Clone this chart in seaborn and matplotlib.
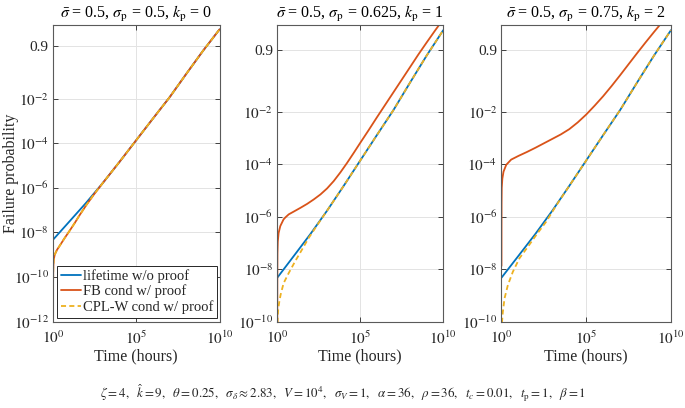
import numpy as np
import pandas as pd
import matplotlib
matplotlib.use("Agg")
import matplotlib.pyplot as plt
import seaborn as sns

# ---------------- data ----------------
series_labels = ["lifetime w/o proof", "FB cond w/ proof", "CPL-W cond w/ proof"]
panel_titles = [
    r"$\bar{\sigma}$ = 0.5, $\sigma_{\rm p}$ = 0.5, $k_{\rm p}$ = 0",
    r"$\bar{\sigma}$ = 0.5, $\sigma_{\rm p}$ = 0.625, $k_{\rm p}$ = 1",
    r"$\bar{\sigma}$ = 0.5, $\sigma_{\rm p}$ = 0.75, $k_{\rm p}$ = 2",
]
footer = (r"$\zeta = 4,\ \ \hat{k} = 9,\ \ \theta = 0.25,\ \ \sigma_\delta \approx 2.83,\ \ "
          r"V = 10^4,\ \ \sigma_V = 1,\ \ \alpha = 36,\ \ \rho = 36,\ \ t_c = 0.01,\ \ "
          r"t_{\rm p} = 1,\ \ \beta = 1$")

# lifetime without proof test (same in every panel)
t_life = [1e0, 1e1, 1e2, 1e3, 1e4, 1e5, 1e6, 1e7, 1e8, 1e9, 1e10]
p_life = [4.7e-9, 3.2e-8, 2.2e-7, 1.7e-6, 1.5e-5, 1.4e-4, 1.3e-3, 0.0117, 0.1235, 0.757, 0.9999981]

# panel 1 (k_p = 0): FB and CPL-W coincide
t_fb_1 = [1.0, 1.00115, 1.0069, 1.035, 1.096, 1.259, 1.738, 2.818, 5.012, 10, 19.95, 39.8, 100, 316,
          1e3, 1e4, 1e5, 1e6, 1e7, 1e8, 1e9, 1e10]
p_fb_1 = [3.2e-14, 3.2e-12, 5.0e-11, 2.5e-10, 5.75e-10, 1.0e-9, 1.66e-9, 2.88e-9, 5.62e-9, 1.2e-8,
          2.63e-8, 6.03e-8, 1.7e-7, 5.62e-7,
          1.7e-6, 1.5e-5, 1.4e-4, 1.3e-3, 0.0117, 0.1235, 0.757, 0.9999981]
t_cpl_1 = [1.0, 1.00115, 1.0069, 1.035, 1.096, 1.259, 1.738, 2.818, 5.012, 10, 19.95, 39.8, 100, 316,
           1e3, 1e4, 1e5, 1e6, 1e7, 1e8, 1e9, 1e10]
p_cpl_1 = [3.2e-14, 3.2e-12, 5.0e-11, 2.5e-10, 5.75e-10, 1.0e-9, 1.66e-9, 2.88e-9, 5.62e-9, 1.2e-8,
           2.63e-8, 6.03e-8, 1.7e-7, 5.62e-7,
           1.7e-6, 1.5e-5, 1.4e-4, 1.3e-3, 0.0117, 0.1235, 0.757, 0.9999981]

# panel 2 (k_p = 1)
t_fb_2 = [1.0, 1.0046, 1.023, 1.072, 1.202, 1.514, 2.399, 3.162, 4.898, 10, 25.1, 63.1, 158, 398,
          1e3, 2512, 6310, 1.585e4, 3.98e4, 1e5, 3.16e5, 1e6, 3.16e6, 1e7, 3.16e7, 1e8,
          3.16e8, 1e9, 3.16e9, 7.94e9]
p_fb_2 = [1e-11, 3.2e-9, 4.0e-8, 1.12e-7, 2.4e-7, 4.37e-7, 7.94e-7, 9.55e-7, 1.23e-6, 1.58e-6,
          2.19e-6, 3.09e-6, 4.57e-6, 7.08e-6, 1.2e-5, 2.29e-5, 4.9e-5, 1.12e-4, 2.69e-4, 6.61e-4,
          1.99e-3, 6.15e-3, 0.01845, 0.0547, 0.156, 0.401, 0.788, 0.98853, 0.9999966,
          0.99999999999944]
t_cpl_2 = [1.0, 1.047, 1.148, 1.318, 1.585, 2.4, 4.9, 12, 31, 78, 250,
           1e3, 1e4, 1e5, 1e6, 1e7, 1e8, 1e9, 1e10]
p_cpl_2 = [1e-11, 1.3e-10, 3.2e-10, 5.6e-10, 1.05e-9, 2.9e-9, 7.1e-9, 2.0e-8, 5.6e-8, 1.55e-7, 4.7e-7,
           1.7e-6, 1.5e-5, 1.4e-4, 1.3e-3, 0.0117, 0.1235, 0.757, 0.9999981]

# panel 3 (k_p = 2)
t_fb_3 = [1.0, 1.0023, 1.0093, 1.035, 1.122, 1.318, 1.905, 3.715, 10, 31.6, 100, 316, 1000, 3162,
          1e4, 3.16e4, 1e5, 3.16e5, 1e6, 3.16e6, 1e7, 3.16e7, 1e8, 3.16e8, 1e9, 3.16e9]
p_fb_3 = [1.32e-8, 3.16e-7, 3.16e-6, 1.26e-5, 2.82e-5, 5.25e-5, 9.55e-5, 1.51e-4, 2.09e-4, 2.95e-4,
          4.27e-4, 6.31e-4, 9.33e-4, 1.38e-3, 2.19e-3, 3.97e-3, 7.91e-3, 0.01723, 0.039, 0.0931,
          0.222, 0.484, 0.824, 0.98853, 0.9999866, 0.9999999999989]
t_cpl_3 = [1.0, 1.047, 1.2, 1.51, 2.4, 4.68, 11.5, 36, 112, 437, 1585,
           1e4, 1e5, 1e6, 1e7, 1e8, 1e9, 1e10]
p_cpl_3 = [1e-11, 7.9e-11, 2.3e-10, 7.6e-10, 2.5e-9, 7.9e-9, 2.6e-8, 7.1e-8, 2.0e-7, 6.5e-7, 2.5e-6,
           1.5e-5, 1.4e-4, 1.3e-3, 0.0117, 0.1235, 0.757, 0.9999981]

yticks_1 = [1e-12, 1e-10, 1e-8, 1e-6, 1e-4, 1e-2, 0.9]
yticks_23 = [1e-10, 1e-8, 1e-6, 1e-4, 1e-2, 0.9]
ytick_labels_1 = [r"$10^{-12}$", r"$10^{-10}$", r"$10^{-8}$", r"$10^{-6}$", r"$10^{-4}$", r"$10^{-2}$", "0.9"]
ytick_labels_23 = [r"$10^{-10}$", r"$10^{-8}$", r"$10^{-6}$", r"$10^{-4}$", r"$10^{-2}$", "0.9"]
xticks = [1e0, 1e5, 1e10]
xtick_labels = [r"$10^{0}$", r"$10^{5}$", r"$10^{10}$"]

# ---------------- style ----------------
sns.set_style("ticks")
plt.rcParams["font.family"] = ["Liberation Serif", "DejaVu Serif"]
plt.rcParams["mathtext.fontset"] = "stix"
plt.rcParams["axes.linewidth"] = 0.8

colors = {"lifetime w/o proof": "#0072BD",
          "FB cond w/ proof": "#D95319",
          "CPL-W cond w/ proof": "#EDB120"}
dashes = {"lifetime w/o proof": "", "FB cond w/ proof": "", "CPL-W cond w/ proof": (2.8, 1.8)}


def fwd(p):
    p = np.clip(np.asarray(p, dtype=float), 1e-300, 1 - 1e-16)
    return np.log10(-np.log1p(-p))


def inv(y):
    return -np.expm1(-np.power(10.0, y))


fig = plt.figure(figsize=(6.85, 4.08), dpi=100)
ax_w = [0.2431, 0.2423, 0.2474]
ax_l = [0.0774, 0.4048, 0.7321]
ax_b, ax_h = 0.2120, 0.7267

panels = [
    (t_fb_1, p_fb_1, t_cpl_1, p_cpl_1, 1e-12, yticks_1, ytick_labels_1),
    (t_fb_2, p_fb_2, t_cpl_2, p_cpl_2, 1e-10, yticks_23, ytick_labels_23),
    (t_fb_3, p_fb_3, t_cpl_3, p_cpl_3, 1e-10, yticks_23, ytick_labels_23),
]

gray = "#262626"
for i, (tf, pf, tc, pc, ylo, yt, ytl) in enumerate(panels):
    ax = fig.add_axes([ax_l[i], ax_b, ax_w[i], ax_h])
    df = pd.concat([
        pd.DataFrame({"t": t_life, "p": p_life, "series": series_labels[0]}),
        pd.DataFrame({"t": tf, "p": pf, "series": series_labels[1]}),
        pd.DataFrame({"t": tc, "p": pc, "series": series_labels[2]}),
    ], ignore_index=True)
    ax.set_xscale("log")
    ax.set_yscale("function", functions=(fwd, inv))
    sns.lineplot(data=df, x="t", y="p", hue="series", style="series",
                 hue_order=series_labels, style_order=series_labels,
                 palette=colors, dashes=dashes, estimator=None, sort=False,
                 linewidth=1.3, legend=False, ax=ax)
    ax.set_xlim(1, 1e10)
    ax.set_ylim(ylo, 1 - 1e-9)
    ax.set_xticks(xticks)
    ax.set_xticklabels(xtick_labels)
    ax.set_yticks(yt)
    ax.set_yticklabels(ytl)
    ax.minorticks_off()
    ax.grid(True, which="major", color="#e3e3e3", linewidth=0.7)
    ax.set_axisbelow(True)
    ax.tick_params(which="both", direction="in", top=True, right=True,
                   length=3.5, width=0.6, color=gray, labelsize=11, pad=3)
    ax.tick_params(axis="x", pad=6)
    for s in ax.spines.values():
        s.set_color("#5a5a5a")
        s.set_linewidth(0.8)
    ax.set_title(panel_titles[i], fontsize=11.5, pad=5, color="black")
    ax.set_xlabel("Time (hours)", fontsize=11.5, labelpad=1)
    if i == 0:
        ax.set_ylabel("Failure probability", fontsize=11.5, va="center")
        ax.yaxis.set_label_coords(-0.255, 0.5)
        handles = ax.get_lines()[:3]
        leg = ax.legend(handles, series_labels, loc="lower left",
                        bbox_to_anchor=(0.024, 0.013), borderaxespad=0,
                        fontsize=10.5, handlelength=1.4, handletextpad=0.15,
                        labelspacing=0.12, borderpad=0.25, fancybox=False,
                        framealpha=1, edgecolor=gray)
        leg.get_frame().set_linewidth(0.7)
    else:
        ax.set_ylabel("")

fig.text(0.5, 0.037, footer, ha="center", va="center", fontsize=9.4)

fig.savefig("out.png", dpi=100)
